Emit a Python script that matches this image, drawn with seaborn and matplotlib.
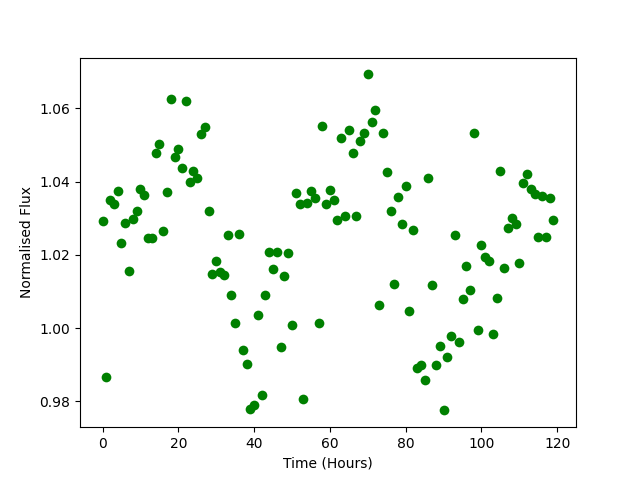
import numpy as np
import pandas as pd
import seaborn as sns
import matplotlib
matplotlib.use("Agg")
import matplotlib.pyplot as plt

# time in hours (about one reading per hour)
time_hours = [0, 1, 2, 3, 4, 5, 6, 7, 8, 9,
              10, 11, 12, 13, 14, 15, 16, 17, 18, 19,
              20, 21, 22, 23, 24, 25, 26, 27, 28, 29,
              30, 31, 32, 33, 34, 35, 36, 37, 38, 39,
              40, 41, 42, 43, 44, 45, 46, 47, 48, 49,
              50, 51, 52, 53, 54, 55, 56, 57, 58, 59,
              60, 61, 62, 63, 64, 65, 66, 67, 68, 69,
              70, 71, 72, 73, 74, 75, 76, 77, 78, 79,
              80, 81, 82, 83, 84, 85, 86, 87, 88, 89,
              90, 91, 92, 93, 94, 95, 96, 97, 98, 99,
              100, 101, 102, 103, 104, 105, 106, 107, 108, 109,
              110, 111, 112, 113, 114, 115, 116, 117, 118, 119]

flux = [1.0292, 0.9866, 1.0349, 1.0340, 1.0374, 1.0231, 1.0288, 1.0155, 1.0297, 1.0319,
        1.0381, 1.0363, 1.0246, 1.0247, 1.0477, 1.0502, 1.0265, 1.0371, 1.0627, 1.0466,
        1.0488, 1.0436, 1.0619, 1.0400, 1.0429, 1.0411, 1.0529, 1.0548, 1.0319, 1.0147,
        1.0182, 1.0152, 1.0146, 1.0253, 1.0090, 1.0015, 1.0256, 0.9939, 0.9902, 0.9780,
        0.9791, 1.0035, 0.9818, 1.0090, 1.0207, 1.0161, 1.0209, 0.9947, 1.0141, 1.0204,
        1.0008, 1.0370, 1.0338, 0.9806, 1.0343, 1.0374, 1.0354, 1.0015, 1.0551, 1.0338,
        1.0376, 1.0349, 1.0294, 1.0518, 1.0305, 1.0540, 1.0477, 1.0305, 1.0510, 1.0534,
        1.0693, 1.0564, 1.0597, 1.0062, 1.0532, 1.0425, 1.0321, 1.0119, 1.0357, 1.0283,
        1.0387, 1.0046, 1.0267, 0.9892, 0.9900, 0.9857, 1.0411, 1.0117, 0.9900, 0.9952,
        0.9775, 0.9922, 0.9977, 1.0253, 0.9963, 1.0078, 1.0169, 1.0105, 1.0532, 0.9996,
        1.0226, 1.0193, 1.0182, 0.9983, 1.0083, 1.0428, 1.0165, 1.0272, 1.0300, 1.0283,
        1.0179, 1.0395, 1.0422, 1.0379, 1.0365, 1.0250, 1.0360, 1.0250, 1.0354, 1.0294]

df = pd.DataFrame({"time": time_hours, "flux": flux})

fig, ax = plt.subplots(figsize=(6.4, 4.8), dpi=100)
sns.scatterplot(data=df, x="time", y="flux", color="green", s=49,
                linewidth=0, ax=ax)
ax.set_xlabel("Time (Hours)")
ax.set_ylabel("Normalised Flux")
ax.margins(0.05)
fig.savefig("out.png", dpi=100)
